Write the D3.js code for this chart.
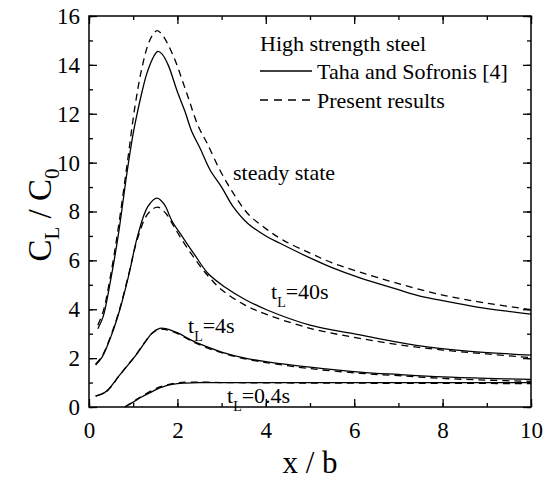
<!DOCTYPE html>
<html>
<head>
<meta charset="utf-8">
<script src="https://cdn.jsdelivr.net/npm/d3@7"></script>
<style>
  body { margin: 0; background: #fff; }
</style>
</head>
<body>
<svg></svg>
<script>
// values: [x/b, CL/C0]
const steadyTaha = [[0.2,3.2],[0.32,3.7],[0.48,5.1],[0.66,7.0],[0.86,9.6],[1.0,11.2],[1.1,12.1],[1.2,12.9],[1.3,13.6],[1.4,14.1],[1.5,14.45],[1.56,14.55],[1.65,14.45],[1.79,14.0],[2.0,12.9],[2.17,12.1],[2.33,11.25],[2.51,10.6],[2.74,9.7],[3.0,9.0],[3.26,8.2],[3.6,7.5],[4.0,7.0],[4.32,6.7],[5.0,6.1],[5.5,5.7],[6.13,5.28],[7.0,4.8],[7.49,4.54],[8.0,4.35],[8.78,4.09],[9.4,3.93],[10,3.8]];
const steadyPresent = [[0.2,3.35],[0.32,3.9],[0.48,5.3],[0.66,7.3],[0.86,9.9],[1.04,12.3],[1.2,13.9],[1.35,14.9],[1.45,15.25],[1.54,15.4],[1.65,15.25],[1.9,14.4],[2.2,12.9],[2.47,11.5],[2.67,10.8],[2.96,9.7],[3.26,8.76],[3.6,7.9],[4.0,7.3],[4.39,6.83],[5.0,6.3],[5.5,5.9],[6.13,5.52],[7.0,5.05],[8.0,4.58],[9.0,4.25],[10,3.98]];
const t40Taha = [[0.15,1.72],[0.3,2.05],[0.5,2.9],[0.7,4.0],[0.9,5.4],[1.1,7.0],[1.33,8.2],[1.54,8.55],[1.7,8.3],[1.88,7.6],[2.1,7.0],[2.4,6.2],[2.7,5.45],[3.08,4.9],[3.53,4.4],[4.03,3.97],[5.0,3.35],[6.13,2.95],[7.49,2.5],[8.5,2.3],[10,2.12]];
const t40Present = [[0.15,1.75],[0.3,2.1],[0.5,2.95],[0.7,4.05],[0.9,5.45],[1.1,6.9],[1.33,7.9],[1.55,8.18],[1.75,7.9],[1.9,7.45],[2.1,6.85],[2.4,6.05],[2.7,5.35],[3.0,4.8],[3.5,4.2],[4.0,3.8],[5.0,3.22],[6.0,2.85],[7.0,2.55],[8.0,2.33],[9.0,2.17],[10,2.02]];
const t4Taha = [[0.15,0.45],[0.36,0.6],[0.5,0.85],[0.66,1.23],[0.85,1.65],[1.04,2.07],[1.25,2.6],[1.43,3.03],[1.6,3.22],[1.75,3.2],[2.01,3.03],[2.3,2.75],[2.56,2.54],[3.0,2.25],[3.53,2.0],[4.0,1.86],[5.0,1.63],[6.13,1.43],[7.0,1.33],[8.0,1.23],[9.0,1.17],[10,1.13]];
const t4Present = [[0.15,0.45],[0.36,0.58],[0.5,0.83],[0.66,1.22],[0.85,1.66],[1.04,2.08],[1.25,2.62],[1.43,3.02],[1.6,3.18],[1.75,3.16],[2.01,3.0],[2.3,2.72],[2.56,2.5],[3.0,2.22],[3.53,1.97],[4.0,1.82],[5.0,1.57],[6.13,1.38],[7.0,1.28],[8.0,1.17],[9.0,1.1],[10,1.05]];
const t04Taha = [[0.81,0],[1.0,0.2],[1.2,0.42],[1.43,0.63],[1.6,0.78],[1.79,0.9],[2.0,0.96],[2.17,0.98],[2.5,1.0],[3,1.0],[4,1.0],[6,1.0],[8,1.0],[10,1.0]];
const t04Present = [[0.81,0],[1.0,0.22],[1.2,0.45],[1.43,0.68],[1.6,0.82],[1.79,0.92],[2.0,0.99],[2.3,1.02],[3,1.0],[5,0.98],[7,0.97],[10,0.96]];

const xTicks = [0, 2, 4, 6, 8, 10];
const yTicks = [0, 2, 4, 6, 8, 10, 12, 14, 16];
const legendTitle = 'High strength steel';
const legendNames = ['Taha and Sofronis [4]', 'Present results'];

const FONT = 'Liberation Serif, DejaVu Serif, serif';

const svg = d3.select('svg')
	.attr('width', 550)
	.attr('height', 482)
	.attr('font-family', FONT);

const margin = { top: 16, right: 19, bottom: 75, left: 89 },
	innerWidth = 550 - margin.left - margin.right,
	innerHeight = 482 - margin.top - margin.bottom;

const xScale = d3.scaleLinear().domain([0, 10]).range([0, innerWidth]);
const yScale = d3.scaleLinear().domain([0, 16]).range([innerHeight, 0]);

const g = svg.append('g')
	.attr('transform', `translate(${margin.left}, ${margin.top})`);

// minor ticks every 1, major every 2, all pointing inward
const minorX = d3.range(0, 11, 1), minorY = d3.range(0, 17, 1);
const styleAxis = (sel, label) => {
	sel.select('.domain').remove();
	sel.selectAll('line').attr('stroke', '#000').attr('stroke-width', 1.3);
	if (label) sel.attr('font-family', FONT).attr('font-size', 23).selectAll('text').attr('fill', '#000');
	else sel.selectAll('text').remove();
};

g.append('g').attr('transform', `translate(0, ${innerHeight})`)
	.call(d3.axisBottom(xScale).tickValues(minorX).tickSize(-4).tickFormat(''))
	.call(s => styleAxis(s, false));
g.append('g').attr('transform', `translate(0, ${innerHeight})`)
	.call(d3.axisBottom(xScale).tickValues(xTicks).tickSize(-8).tickPadding(15).tickFormat(d3.format('d')))
	.call(s => styleAxis(s, true));
g.append('g')
	.call(d3.axisTop(xScale).tickValues(minorX).tickSize(-4).tickFormat(''))
	.call(s => styleAxis(s, false));
g.append('g')
	.call(d3.axisTop(xScale).tickValues(xTicks).tickSize(-8).tickFormat(''))
	.call(s => styleAxis(s, false));

g.append('g')
	.call(d3.axisLeft(yScale).tickValues(minorY).tickSize(-4).tickFormat(''))
	.call(s => styleAxis(s, false));
g.append('g')
	.call(d3.axisLeft(yScale).tickValues(yTicks).tickSize(-8).tickPadding(9).tickFormat(d3.format('d')))
	.call(s => styleAxis(s, true));
g.append('g').attr('transform', `translate(${innerWidth}, 0)`)
	.call(d3.axisRight(yScale).tickValues(minorY).tickSize(-4).tickFormat(''))
	.call(s => styleAxis(s, false));
g.append('g').attr('transform', `translate(${innerWidth}, 0)`)
	.call(d3.axisRight(yScale).tickValues(yTicks).tickSize(-8).tickFormat(''))
	.call(s => styleAxis(s, false));

g.append('rect')
	.attr('width', innerWidth)
	.attr('height', innerHeight)
	.attr('fill', 'none')
	.attr('stroke', '#000')
	.attr('stroke-width', 1.5);

// curves
const lineGenerator = d3.line()
	.x(d => xScale(d[0]))
	.y(d => yScale(d[1]))
	.curve(d3.curveCatmullRom.alpha(0.5));

const series = [
	{ data: steadyTaha, dash: null },
	{ data: steadyPresent, dash: '7,5' },
	{ data: t40Taha, dash: null },
	{ data: t40Present, dash: '7,5' },
	{ data: t4Taha, dash: null },
	{ data: t4Present, dash: '7,5' },
	{ data: t04Taha, dash: null },
	{ data: t04Present, dash: '7,5' }
];

g.selectAll('.line-path')
	.data(series)
	.enter().append('path')
	.attr('class', 'line-path')
	.attr('fill', 'none')
	.attr('stroke', '#000')
	.attr('stroke-width', 1.3)
	.attr('stroke-dasharray', d => d.dash)
	.attr('d', d => lineGenerator(d.data));

// curve labels
const annot = (x, y, main, sub, rest) => {
	const t = g.append('text')
		.attr('x', x - margin.left)
		.attr('y', y - margin.top)
		.attr('font-size', 22);
	t.append('tspan').text(main);
	if (sub) {
		t.append('tspan').attr('dy', 8).attr('font-size', 14).text(sub);
		t.append('tspan').attr('dy', -8).text(rest);
	}
};
annot(233, 180, 'steady state');
annot(271, 299, 't', 'L', '=40s');
annot(188, 333, 't', 'L', '=4s');
annot(227, 403, 't', 'L', '=0.4s');

// legend
const legend = g.append('g').attr('font-size', 22);
legend.append('text')
	.attr('x', 260 - margin.left)
	.attr('y', 51 - margin.top)
	.text(legendTitle);
legendNames.forEach((name, i) => {
	const ly = 71 + i * 29 - margin.top;
	legend.append('line')
		.attr('x1', 260 - margin.left).attr('x2', 312 - margin.left)
		.attr('y1', ly).attr('y2', ly)
		.attr('stroke', '#000')
		.attr('stroke-width', 1.3)
		.attr('stroke-dasharray', i === 1 ? '8,6' : null);
	legend.append('text')
		.attr('x', 317 - margin.left)
		.attr('y', ly + 8)
		.text(name);
});

// axis titles
svg.append('text')
	.attr('x', 310)
	.attr('y', 473)
	.attr('text-anchor', 'middle')
	.attr('font-size', 31)
	.text('x / b');

const yt = svg.append('text')
	.attr('transform', 'translate(51, 215) rotate(-90)')
	.attr('text-anchor', 'middle')
	.attr('font-size', 33);
yt.append('tspan').text('C');
yt.append('tspan').attr('dy', 8).attr('font-size', 21).text('L');
yt.append('tspan').attr('dy', -8).text(' / C');
yt.append('tspan').attr('dy', 8).attr('font-size', 21).text('0');
</script>
</body>
</html>
